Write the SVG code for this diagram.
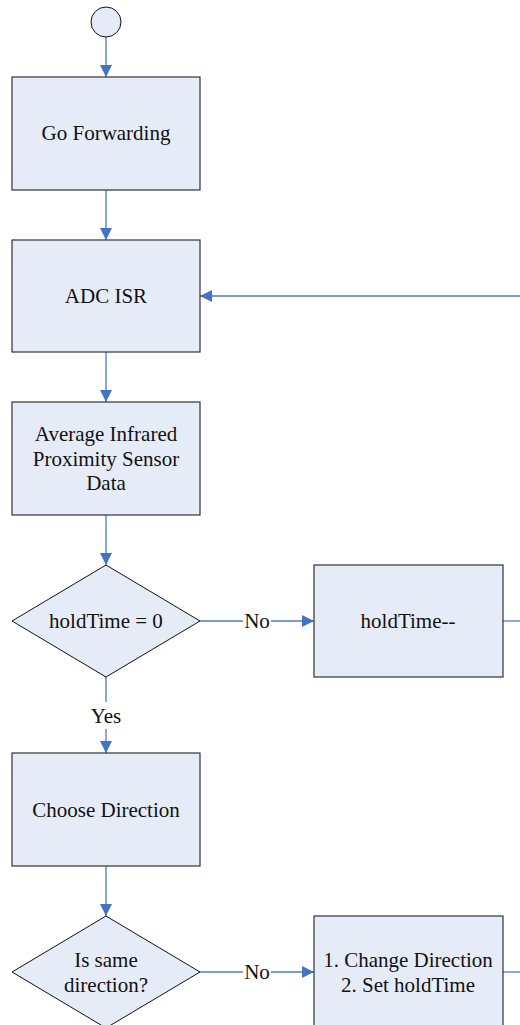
<svg xmlns="http://www.w3.org/2000/svg" width="520" height="1025" viewBox="0 0 520 1025">
<style>
.n{fill:#E6ECF7;stroke:#333;stroke-width:1.2}
.d{fill:#E6ECF7;stroke:#111;stroke-width:1}
.c{fill:none;stroke:#4A7CC6;stroke-width:1.3}
.lb{fill:#fff}
</style>
<defs>
<marker id="ah" markerWidth="12" markerHeight="12" viewBox="0 0 12 12" refX="12" refY="6" orient="auto" markerUnits="userSpaceOnUse">
<path d="M0,0 L12,6 L0,12 Z" fill="#4472C4"/>
</marker>
</defs>
<g id="connectors">
<line class="c" x1="106" y1="37" x2="106" y2="77" marker-end="url(#ah)"/>
<line class="c" x1="106" y1="190" x2="106" y2="240" marker-end="url(#ah)"/>
<line class="c" x1="106" y1="352" x2="106" y2="402" marker-end="url(#ah)"/>
<line class="c" x1="106" y1="515" x2="106" y2="565" marker-end="url(#ah)"/>
<line class="c" x1="106" y1="677" x2="106" y2="753" marker-end="url(#ah)"/>
<line class="c" x1="106" y1="866" x2="106" y2="916" marker-end="url(#ah)"/>
<line class="c" x1="200" y1="621" x2="314" y2="621" marker-end="url(#ah)"/>
<line class="c" x1="200" y1="972" x2="314" y2="972" marker-end="url(#ah)"/>
<line class="c" x1="503" y1="621" x2="520" y2="621"/>
<line class="c" x1="503" y1="972" x2="520" y2="972"/>
<line class="c" x1="520" y1="296" x2="200" y2="296" marker-end="url(#ah)"/>
<rect class="lb" x="243" y="610" width="28" height="22"/>
<rect class="lb" x="88" y="702" width="36" height="27"/>
<rect class="lb" x="243" y="961" width="28" height="22"/>
<text x="257" y="628" font-family="Times New Roman, Liberation Serif, serif" font-size="21" fill="#111" text-anchor="middle">No</text>
<text x="106" y="723" font-family="Times New Roman, Liberation Serif, serif" font-size="21" fill="#111" text-anchor="middle">Yes</text>
<text x="257" y="979" font-family="Times New Roman, Liberation Serif, serif" font-size="21" fill="#111" text-anchor="middle">No</text>
</g>
<g id="start"><circle class="d" cx="106" cy="22" r="15"/></g>
<g id="go-forwarding"><rect class="n" x="12" y="77" width="188" height="113"/><text x="106" y="140" font-family="Times New Roman, Liberation Serif, serif" font-size="21" fill="#111" text-anchor="middle">Go Forwarding</text></g>
<g id="adc-isr"><rect class="n" x="12" y="240" width="188" height="112"/><text x="106" y="303" font-family="Times New Roman, Liberation Serif, serif" font-size="21" fill="#111" text-anchor="middle">ADC ISR</text></g>
<g id="average"><rect class="n" x="12" y="402" width="188" height="113"/><text x="106" y="441" font-family="Times New Roman, Liberation Serif, serif" font-size="21" fill="#111" text-anchor="middle">Average Infrared</text><text x="106" y="466" font-family="Times New Roman, Liberation Serif, serif" font-size="21" fill="#111" text-anchor="middle">Proximity Sensor</text><text x="106" y="490" font-family="Times New Roman, Liberation Serif, serif" font-size="21" fill="#111" text-anchor="middle">Data</text></g>
<g id="hold-check"><polygon class="d" points="106,565 200,621 106,677 12,621"/><text x="106" y="628" font-family="Times New Roman, Liberation Serif, serif" font-size="21" fill="#111" text-anchor="middle">holdTime = 0</text></g>
<g id="hold-dec"><rect class="n" x="314" y="565" width="189" height="112"/><text x="408" y="628" font-family="Times New Roman, Liberation Serif, serif" font-size="21" fill="#111" text-anchor="middle">holdTime--</text></g>
<g id="choose"><rect class="n" x="12" y="753" width="188" height="113"/><text x="106" y="817" font-family="Times New Roman, Liberation Serif, serif" font-size="21" fill="#111" text-anchor="middle">Choose Direction</text></g>
<g id="same-dir"><polygon class="d" points="106,916 200,972 106,1028 12,972"/><text x="106" y="967" font-family="Times New Roman, Liberation Serif, serif" font-size="21" fill="#111" text-anchor="middle">Is same</text><text x="106" y="992" font-family="Times New Roman, Liberation Serif, serif" font-size="21" fill="#111" text-anchor="middle">direction?</text></g>
<g id="change"><rect class="n" x="314" y="916" width="189" height="113"/><text x="408" y="967" font-family="Times New Roman, Liberation Serif, serif" font-size="21" fill="#111" text-anchor="middle">1. Change Direction</text><text x="408" y="992" font-family="Times New Roman, Liberation Serif, serif" font-size="21" fill="#111" text-anchor="middle">2. Set holdTime</text></g>
</svg>
